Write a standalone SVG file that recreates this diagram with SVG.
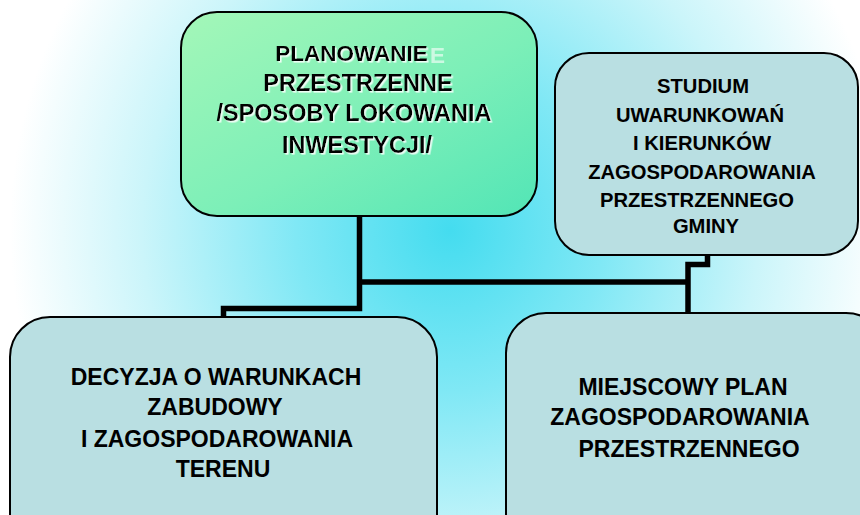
<svg xmlns="http://www.w3.org/2000/svg" width="860" height="515" viewBox="0 0 860 515">
  <defs>
    <radialGradient id="bg" gradientUnits="userSpaceOnUse" cx="450" cy="230" r="440" gradientTransform="translate(450 230) scale(1 1.05) translate(-450 -230)">
      <stop offset="0" stop-color="#44dcef"/>
      <stop offset="0.35" stop-color="#80e8f5"/>
      <stop offset="0.7" stop-color="#cbf5fa"/>
      <stop offset="1" stop-color="#ffffff"/>
    </radialGradient>
    <linearGradient id="green" x1="0" y1="0" x2="1" y2="1">
      <stop offset="0" stop-color="#a4f7b8"/>
      <stop offset="0.55" stop-color="#7cefb8"/>
      <stop offset="1" stop-color="#52e5b6"/>
    </linearGradient>
    <filter id="ws" x="-5%" y="-20%" width="115%" height="150%">
      <feDropShadow dx="1.6" dy="1.6" stdDeviation="0" flood-color="#ffffff" flood-opacity="0.85"/>
    </filter>
  </defs>
  <style>
    .node { stroke: #000; stroke-width: 2; }
    .blue { fill: #b9dfe2; }
    .lbl { font-family: "Liberation Sans", Arial, sans-serif; font-weight: bold; fill: #000; text-anchor: middle; }
    .t23 { font-size: 23px; }
    .t235 { font-size: 23.5px; }
    .t20 { font-size: 20.2px; }
    .conn { fill: none; stroke: #000; stroke-width: 5.5; stroke-linejoin: miter; stroke-linecap: butt; }
  </style>

  <rect x="0" y="0" width="860" height="515" fill="url(#bg)"/>

  <g id="connectors">
    <path class="conn" d="M359.5 216 V308.5 H223.5 V318"/>
    <path class="conn" d="M359.5 282 H688"/>
    <path class="conn" d="M707.5 255 V264.5 H688 V314"/>
  </g>

  <g id="node-planowanie">
    <rect class="node" x="181" y="12" width="356" height="204" rx="36" ry="36" fill="url(#green)"/>
    <text class="lbl" x="430" y="63" style="font-size:22.5px;fill:#ffffff;text-anchor:start" opacity="0.6">E</text>
    <g filter="url(#ws)">
      <text class="lbl" x="351.5" y="61" style="font-size:22.5px">PLANOWANIE</text>
      <text class="lbl t235" x="358" y="91">PRZESTRZENNE</text>
      <text class="lbl t235" x="354" y="121">/SPOSOBY LOKOWANIA</text>
      <text class="lbl t235" x="357" y="153">INWESTYCJI/</text>
    </g>
  </g>

  <g id="node-studium">
    <rect class="node blue" x="555" y="53" width="303" height="202" rx="34" ry="34"/>
    <text class="lbl t20" x="703" y="93">STUDIUM</text>
    <text class="lbl t20" x="700" y="122">UWARUNKOWAŃ</text>
    <text class="lbl t20" x="702" y="150">I KIERUNKÓW</text>
    <text class="lbl t20" x="702" y="179">ZAGOSPODAROWANIA</text>
    <text class="lbl t20" x="697" y="207">PRZESTRZENNEGO</text>
    <text class="lbl t20" x="706" y="233">GMINY</text>
  </g>

  <g id="node-decyzja">
    <rect class="node blue" x="10" y="317" width="427" height="240" rx="40" ry="40"/>
    <text class="lbl t23" x="216" y="385">DECYZJA O WARUNKACH</text>
    <text class="lbl t23" x="215" y="415">ZABUDOWY</text>
    <text class="lbl t23" x="217" y="447">I ZAGOSPODAROWANIA</text>
    <text class="lbl t23" x="223" y="477">TERENU</text>
  </g>

  <g id="node-miejscowy">
    <rect class="node blue" x="506" y="313" width="380" height="240" rx="40" ry="40"/>
    <text class="lbl t23" x="683" y="395">MIEJSCOWY PLAN</text>
    <text class="lbl t23" x="680" y="425">ZAGOSPODAROWANIA</text>
    <text class="lbl t23" x="689" y="457">PRZESTRZENNEGO</text>
  </g>
</svg>
